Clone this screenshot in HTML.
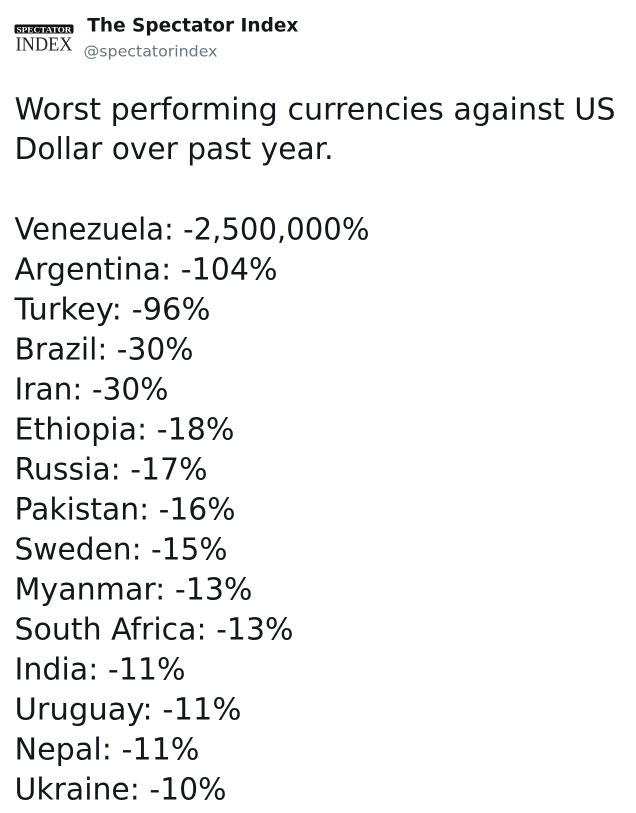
<!DOCTYPE html>
<html>
<head>
<meta charset="utf-8">
<style>
  html, body { margin: 0; padding: 0; background: #ffffff; }
  body { width: 636px; height: 813px; overflow: hidden; }
  svg { display: block; }
  .t { font-family: "DejaVu Sans", "Liberation Sans", sans-serif; font-size: 30px; fill: #14171a; }
</style>
</head>
<body>
<svg width="636" height="813" viewBox="0 0 636 813" xmlns="http://www.w3.org/2000/svg">
  <rect x="0" y="0" width="636" height="813" fill="#ffffff"/>

  <!-- Logo -->
  <rect x="14.5" y="24.5" width="59" height="9" rx="1.8" fill="#111111"/>
  <text x="16.5" y="32.3" font-family="Liberation Serif, serif" font-weight="bold" font-size="8.6" fill="#ffffff" textLength="55" lengthAdjust="spacingAndGlyphs">SPECTATOR</text>
  <text x="15.5" y="50.3" font-family="Liberation Serif, serif" font-size="20" fill="#222222" textLength="57" lengthAdjust="spacingAndGlyphs">INDEX</text>

  <!-- Name / handle -->
  <text x="87.3" y="31.7" font-family="DejaVu Sans, Liberation Sans, sans-serif" font-weight="bold" font-size="18.5" fill="#14171a" textLength="211" lengthAdjust="spacingAndGlyphs">The Spectator Index</text>
  <text x="83.5" y="56.7" font-family="DejaVu Sans, Liberation Sans, sans-serif" font-size="15.5" fill="#657786" textLength="134" lengthAdjust="spacingAndGlyphs">@spectatorindex</text>

  <!-- Tweet body -->
  <text class="t" x="14.5" y="119.5" textLength="601" lengthAdjust="spacingAndGlyphs">Worst performing currencies against US</text>
  <text class="t" x="14.5" y="159" textLength="319" lengthAdjust="spacingAndGlyphs">Dollar over past year.</text>

  <text class="t" x="14.5" y="239.5" textLength="355" lengthAdjust="spacingAndGlyphs">Venezuela: -2,500,000%</text>
  <text class="t" x="14.5" y="279.5" textLength="263" lengthAdjust="spacingAndGlyphs">Argentina: -104%</text>
  <text class="t" x="14.5" y="319.5" textLength="196" lengthAdjust="spacingAndGlyphs">Turkey: -96%</text>
  <text class="t" x="14.5" y="359.5" textLength="179" lengthAdjust="spacingAndGlyphs">Brazil: -30%</text>
  <text class="t" x="14.5" y="399.5" textLength="154" lengthAdjust="spacingAndGlyphs">Iran: -30%</text>
  <text class="t" x="14.5" y="439.5" textLength="220" lengthAdjust="spacingAndGlyphs">Ethiopia: -18%</text>
  <text class="t" x="14.5" y="479.5" textLength="193" lengthAdjust="spacingAndGlyphs">Russia: -17%</text>
  <text class="t" x="14.5" y="519.5" textLength="221" lengthAdjust="spacingAndGlyphs">Pakistan: -16%</text>
  <text class="t" x="14.5" y="559.5" textLength="213" lengthAdjust="spacingAndGlyphs">Sweden: -15%</text>
  <text class="t" x="14.5" y="599.5" textLength="238" lengthAdjust="spacingAndGlyphs">Myanmar: -13%</text>
  <text class="t" x="14.5" y="639.5" textLength="279" lengthAdjust="spacingAndGlyphs">South Africa: -13%</text>
  <text class="t" x="14.5" y="679.5" textLength="171" lengthAdjust="spacingAndGlyphs">India: -11%</text>
  <text class="t" x="14.5" y="719.5" textLength="227" lengthAdjust="spacingAndGlyphs">Uruguay: -11%</text>
  <text class="t" x="14.5" y="759.5" textLength="185" lengthAdjust="spacingAndGlyphs">Nepal: -11%</text>
  <text class="t" x="14.5" y="799.5" textLength="212" lengthAdjust="spacingAndGlyphs">Ukraine: -10%</text>
</svg>
</body>
</html>
